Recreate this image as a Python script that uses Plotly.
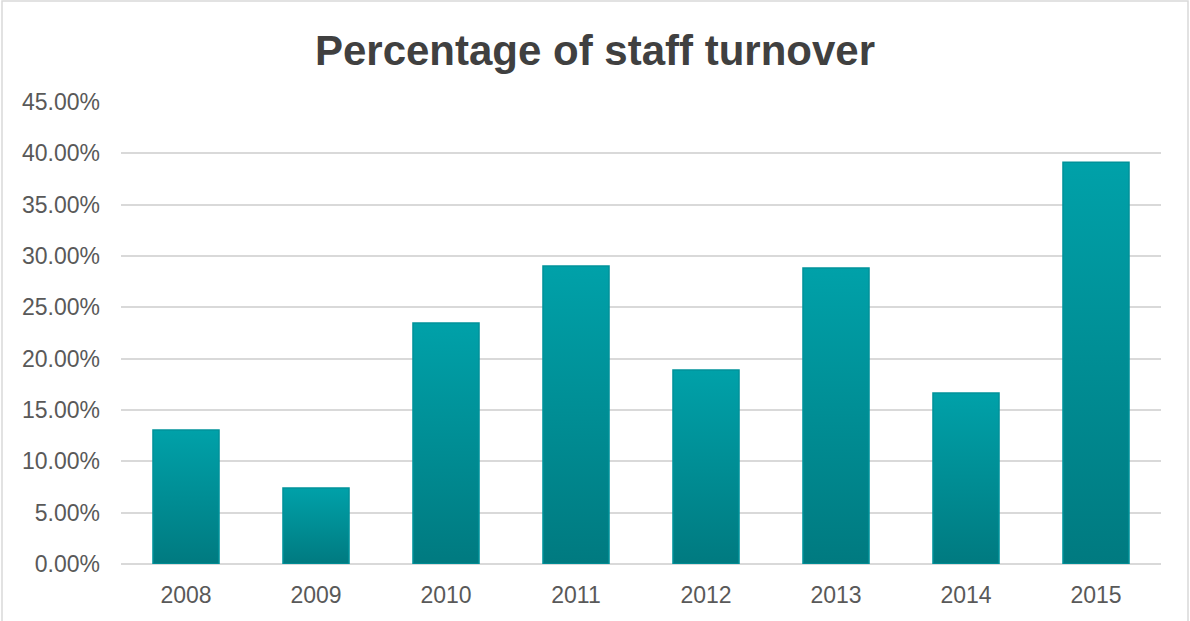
import plotly.graph_objects as go

# Staff turnover rate by year
years = ["2008", "2009", "2010", "2011", "2012", "2013", "2014", "2015"]
turnover = [0.1305, 0.0740, 0.2347, 0.2902, 0.1889, 0.2882, 0.1665, 0.3914]
y_ticks = [0, 0.05, 0.10, 0.15, 0.20, 0.25, 0.30, 0.35, 0.40, 0.45]

W, H = 1190, 621
ML, MR, MT, MB = 121, 29, 102, 57
half_width = 0.254  # half of a bar's width, in category units

fig = go.Figure()

# Each bar is a filled polygon so it can carry its own vertical gradient
for i, (yr, v) in enumerate(zip(years, turnover)):
    xs = [i - half_width, i + half_width, i + half_width, i - half_width, i - half_width]
    ys = [0, 0, v, v, 0]
    fig.add_trace(go.Scatter(
        x=xs, y=ys, mode="lines", fill="toself",
        fillgradient=dict(type="vertical",
                          colorscale=[[0, "#007A80"], [1, "#00A1A9"]]),
        line=dict(color="#00929A", width=1.5),
        name=yr, showlegend=False,
        hoveron="fills", text=f"{yr}: {v:.2%}", hoverinfo="text",
    ))

# Light outline around the whole chart area
pw = W - ML - MR
ph = H - MT - MB
fig.add_shape(type="rect", xref="paper", yref="paper",
              x0=(2 - ML) / pw, x1=(W - 2 - ML) / pw,
              y0=-(H + 10 - MT - ph) / ph, y1=(H - 1 - MB) / ph,
              line=dict(color="#D9D9D9", width=1.5), fillcolor="rgba(0,0,0,0)",
              layer="below")

fig.update_layout(
    width=W, height=H,
    margin=dict(l=ML, r=MR, t=MT, b=MB),
    paper_bgcolor="white", plot_bgcolor="white",
    font=dict(family="Liberation Sans, Arial, sans-serif", color="#595959", size=23),
    title=dict(text="<b>Percentage of staff turnover</b>",
               x=0.5, xanchor="center", y=1 - 50 / H, yanchor="middle",
               font=dict(size=42, color="#404040")),
    xaxis=dict(
        range=[-0.5, len(years) - 0.5],
        tickmode="array", tickvals=list(range(len(years))), ticktext=years,
        showgrid=False, zeroline=False, showline=False, ticks="",
        ticklabelstandoff=15,
    ),
    yaxis=dict(
        range=[0, 0.45], tickvals=y_ticks, tickformat=".2%",
        showgrid=True, gridcolor="#D9D9D9", gridwidth=1.5,
        zeroline=True, zerolinecolor="#D9D9D9", zerolinewidth=1.5,
        showline=False, ticks="", ticklabelstandoff=20,
    ),
    hovermode="closest",
)

fig.write_html("out.html")
